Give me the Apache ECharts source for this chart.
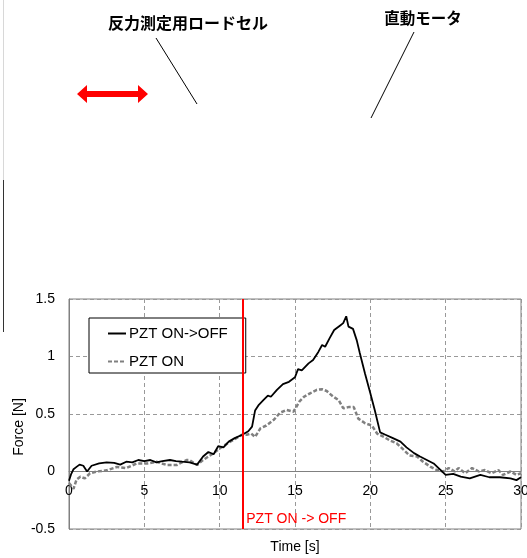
<!DOCTYPE html>
<html>
<head>
<meta charset="utf-8">
<script src="https://cdn.jsdelivr.net/npm/echarts@6/dist/echarts.min.js"></script>
<style>
html, body { margin: 0; padding: 0; background: #fff; }
#main { width: 527px; height: 558px; }
</style>
</head>
<body>
<div id="main"></div>
<script>
// 力の時間変化 [s, N]
var onOffData = [
	[0, -0.08], [0.15, -0.02], [0.3, 0.02], [0.5, 0.04], [0.7, 0.06], [0.95, 0.05], [1.2, 0.0], [1.5, 0.05],
	[2.0, 0.07], [2.5, 0.08], [3.0, 0.075], [3.4, 0.06], [3.8, 0.085], [4.2, 0.08], [4.6, 0.1], [5.0, 0.09],
	[5.4, 0.1], [5.8, 0.08], [6.2, 0.09], [6.7, 0.1], [7.1, 0.09], [7.5, 0.085], [8.0, 0.08], [8.5, 0.06],
	[8.9, 0.13], [9.25, 0.17], [9.6, 0.15], [9.9, 0.22], [10.25, 0.21], [10.6, 0.26], [11.0, 0.29], [11.5, 0.32],
	[11.9, 0.35], [12.15, 0.39], [12.35, 0.53], [12.6, 0.58], [12.9, 0.62], [13.2, 0.66], [13.4, 0.65], [13.8, 0.71],
	[14.2, 0.76], [14.6, 0.78], [15.0, 0.82], [15.2, 0.89], [15.45, 0.88], [15.9, 0.94], [16.2, 0.97], [16.55, 1.04],
	[16.8, 1.10], [17.0, 1.085], [17.3, 1.16], [17.6, 1.23], [18.0, 1.27], [18.2, 1.29], [18.4, 1.35], [18.55, 1.26],
	[18.85, 1.24], [19.1, 1.14], [19.3, 1.03], [19.65, 0.85], [20.0, 0.68], [20.3, 0.53], [20.65, 0.34], [21.0, 0.32],
	[21.5, 0.29], [22.0, 0.26], [22.4, 0.21], [22.9, 0.16], [23.3, 0.13], [23.75, 0.1], [24.2, 0.07], [24.6, 0.02],
	[25.0, -0.03], [25.5, -0.02], [26.0, -0.045], [26.6, -0.06], [27.3, -0.03], [27.9, -0.05], [28.6, -0.05],
	[29.3, -0.06], [29.7, -0.075], [30, -0.05]
];
var onData = [
	[0, -0.1], [0.3, -0.15], [0.5, -0.07], [0.75, -0.045], [1.05, -0.06], [1.4, -0.015], [1.85, 0.0], [2.5, 0.01],
	[3.2, 0.04], [3.8, 0.03], [4.5, 0.07], [5.2, 0.07], [5.8, 0.085], [6.5, 0.056], [7.15, 0.056], [7.8, 0.1],
	[8.0, 0.1], [8.5, 0.056], [8.9, 0.1], [9.6, 0.16], [10.0, 0.2], [10.7, 0.26], [11.5, 0.32], [11.8, 0.32],
	[12.1, 0.33], [12.35, 0.30], [12.7, 0.375], [13.1, 0.40], [13.6, 0.45], [14.0, 0.51], [14.45, 0.535], [14.9, 0.52],
	[15.3, 0.61], [15.6, 0.65], [16.0, 0.68], [16.45, 0.71], [16.8, 0.715], [17.1, 0.70], [17.55, 0.65], [17.9, 0.62],
	[18.2, 0.55], [18.55, 0.56], [18.9, 0.56], [19.2, 0.46], [19.65, 0.42], [20.1, 0.40], [20.45, 0.33], [20.9, 0.30],
	[21.3, 0.27], [21.75, 0.245], [22.2, 0.19], [22.6, 0.14], [23.1, 0.13], [23.5, 0.085], [24.0, 0.04], [24.4, 0.013],
	[24.85, 0.0], [25.2, 0.03], [25.6, 0.0], [25.85, 0.03], [26.3, -0.015], [26.75, 0.03], [27.2, 0.0], [27.6, 0.013],
	[28.05, -0.015], [28.5, 0.013], [28.8, -0.03], [29.3, 0.0], [29.7, -0.03], [30, -0.015]
];
var seriesNames = ['PZT ON->OFF', 'PZT ON'];
var switchTime = 11.5;
var switchLabel = 'PZT ON -> OFF';

var font = '"Liberation Sans", Arial, sans-serif';
var jpFont = '"Noto Sans CJK JP", sans-serif';
var myChart = echarts.init(document.getElementById('main'));

var option = {
	animation : false,
	grid : {
		left : 69,
		right : 6,
		top : 299,
		bottom : 29,
		outerBoundsMode : 'none',
		containLabel : false,
		show : true,
		borderColor : '#808080',
		borderWidth : 1
	},
	legend : {
		left : 89,
		top : 318,
		orient : 'vertical',
		data : seriesNames,
		backgroundColor : '#fff',
		borderColor : '#000',
		borderWidth : 1,
		padding : [8, 18, 4, 18],
		itemWidth : 18,
		itemHeight : 14,
		itemGap : 13,
		itemStyle : { color : 'rgba(0,0,0,0)', borderWidth : 0 },
		textStyle : { fontFamily : font, fontSize : 15, color : '#000', padding : [0, 0, 0, -2] }
	},
	xAxis : {
		type : 'value',
		min : 0,
		max : 30,
		interval : 5,
		name : 'Time [s]',
		nameLocation : 'middle',
		nameGap : 69,
		nameMoveOverlap : false,
		nameTextStyle : { fontFamily : font, fontSize : 14, color : '#000' },
		axisLine : { onZero : false, lineStyle : { color : '#808080', width : 1 } },
		axisTick : { show : false },
		axisLabel : { fontFamily : font, fontSize : 14, color : '#000', margin : 13 },
		splitLine : { lineStyle : { color : '#999', type : [4, 3], width : 1 } }
	},
	yAxis : {
		type : 'value',
		min : -0.5,
		max : 1.5,
		interval : 0.5,
		name : 'Force [N]',
		nameLocation : 'middle',
		nameGap : 43,
		nameMoveOverlap : false,
		nameTextStyle : { fontFamily : font, fontSize : 14, color : '#000', padding : [0, 0, 0, -26] },
		axisLine : { show : true, lineStyle : { color : '#808080' } },
		axisTick : { show : false },
		axisLabel : { fontFamily : font, fontSize : 14, color : '#000', margin : 14 },
		splitLine : { lineStyle : { color : '#999', type : [4, 3], width : 1 } }
	},
	series : [
		{
			name : seriesNames[1],
			type : 'line',
			symbol : 'none',
			z : 3,
			lineStyle : { color : '#808080', width : 2.5, type : [4, 2] },
			itemStyle : { color : '#808080' },
			data : onData
		},
		{
			name : seriesNames[0],
			type : 'line',
			symbol : 'none',
			z : 4,
			lineStyle : { color : '#000', width : 1.8 },
			itemStyle : { color : '#000' },
			data : onOffData,
			markLine : {
				silent : true,
				symbol : 'none',
				label : { show : false },
				lineStyle : { color : '#ff0000', width : 2, type : 'solid' },
				data : [{ xAxis : switchTime }]
			}
		}
	]
};
myChart.setOption(option);

// x軸をy=0の位置に移動（ラベルごと）
var zeroPx = myChart.convertToPixel({ yAxisIndex : 0 }, 0);
var bottomPx = myChart.convertToPixel({ yAxisIndex : 0 }, -0.5);
myChart.setOption({ xAxis : { offset : zeroPx - bottomPx } });

// 上部の図（装置の説明）
var labelPos = myChart.convertToPixel({ gridIndex : 0 }, [switchTime, -0.5]);
myChart.setOption({
	graphic : [
		{ type : 'line', shape : { x1 : 3.5, y1 : 0, x2 : 3.5, y2 : 180 }, style : { stroke : '#d8d8d8', lineWidth : 1 } },
		{ type : 'line', shape : { x1 : 3.5, y1 : 180, x2 : 3.5, y2 : 332 }, style : { stroke : '#333', lineWidth : 1 } },
		{ type : 'text', x : 188, y : 23, style : { text : '反力測定用ロードセル', font : 'bold 16px ' + jpFont, fill : '#000', align : 'center', verticalAlign : 'middle' } },
		{ type : 'text', x : 423, y : 18, style : { text : '直動モータ', font : 'bold 15.5px ' + jpFont, fill : '#000', align : 'center', verticalAlign : 'middle' } },
		{ type : 'line', shape : { x1 : 156, y1 : 38, x2 : 197, y2 : 104 }, style : { stroke : '#000', lineWidth : 1 } },
		{ type : 'line', shape : { x1 : 414, y1 : 32, x2 : 371, y2 : 118 }, style : { stroke : '#000', lineWidth : 1 } },
		{
			type : 'polygon',
			shape : { points : [[77, 94], [87, 85], [87, 91], [138, 91], [138, 85], [148, 94], [138, 103], [138, 97], [87, 97], [87, 103]] },
			style : { fill : '#ff0000' }
		},
		{ type : 'text', x : labelPos[0] + 4, y : labelPos[1] - 10, style : { text : switchLabel, font : '14px ' + font, fill : '#ff0000', verticalAlign : 'middle' } }
	]
});
</script>
</body>
</html>
